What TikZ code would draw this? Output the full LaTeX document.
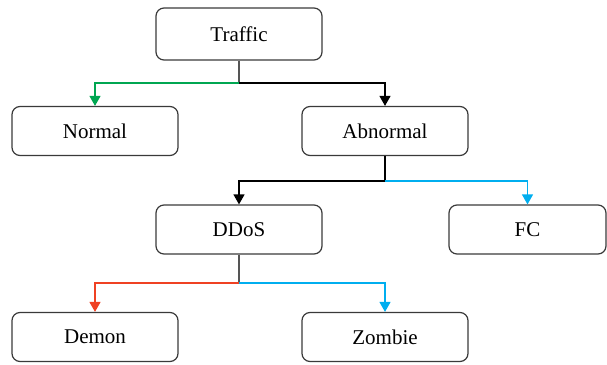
\documentclass[tikz,border=0pt]{standalone}
\usepackage{fontspec}
\setmainfont{Liberation Serif}
\usepackage{xcolor}
\usepackage{tikz}
\usetikzlibrary{arrows.meta}
\definecolor{boxline}{HTML}{3A3A3A}
\definecolor{trunkgray}{HTML}{555555}
\definecolor{linknorm}{HTML}{00A651}
\definecolor{linkfc}{HTML}{00AEEF}
\definecolor{linkdemon}{HTML}{EF4123}

\tikzset{
  box/.style={draw=boxline,line width=1.2pt,rounded corners=8pt,
    minimum width=166pt,minimum height=49pt,inner sep=0pt,
    font=\fontsize{21}{24}\selectfont},
  trunk/.style={draw=trunkgray,line width=1.2pt},
  link/.style={line width=1.2pt,-{Triangle[width=11pt,length=10pt]}},
}

\begin{document}
\begin{tikzpicture}[x=1pt,y=-1pt]
  \useasboundingbox (0,0) rectangle (607,364);
  % boxes
  \node[box,minimum height=52pt] (traffic) at (239,34) {Traffic};
  \node[box] (normal)   at (95,131)  {Normal};
  \node[box] (abnormal) at (385,131) {Abnormal};
  \node[box] (ddos)     at (239,229.5) {DDoS};
  \node[box,minimum width=157pt] (fc) at (527.5,229.5) {FC};
  \node[box] (demon)    at (95,337)  {Demon};
  \node[box] (zombie)   at (385,337) {Zombie};
  % branch points
  \coordinate (jtraffic)  at (239,83);
  \coordinate (jabnormal) at (385,181);
  \coordinate (jddos)     at (239,283);
  % connectors
  \draw[trunk] (traffic.south) -- (jtraffic);
  \draw[link,linknorm] (jtraffic) -| (normal.north);
  \draw[link,black] (jtraffic) -| (abnormal.north);
  \draw[trunk,draw=black] (abnormal.south) -- (jabnormal);
  \draw[link,black] (jabnormal) -| (ddos.north);
  \draw[link,linkfc] (jabnormal) -| (fc.north);
  \draw[trunk] (ddos.south) -- (jddos);
  \draw[link,linkdemon] (jddos) -| (demon.north);
  \draw[link,linkfc] (jddos) -| (zombie.north);
\end{tikzpicture}
\end{document}
